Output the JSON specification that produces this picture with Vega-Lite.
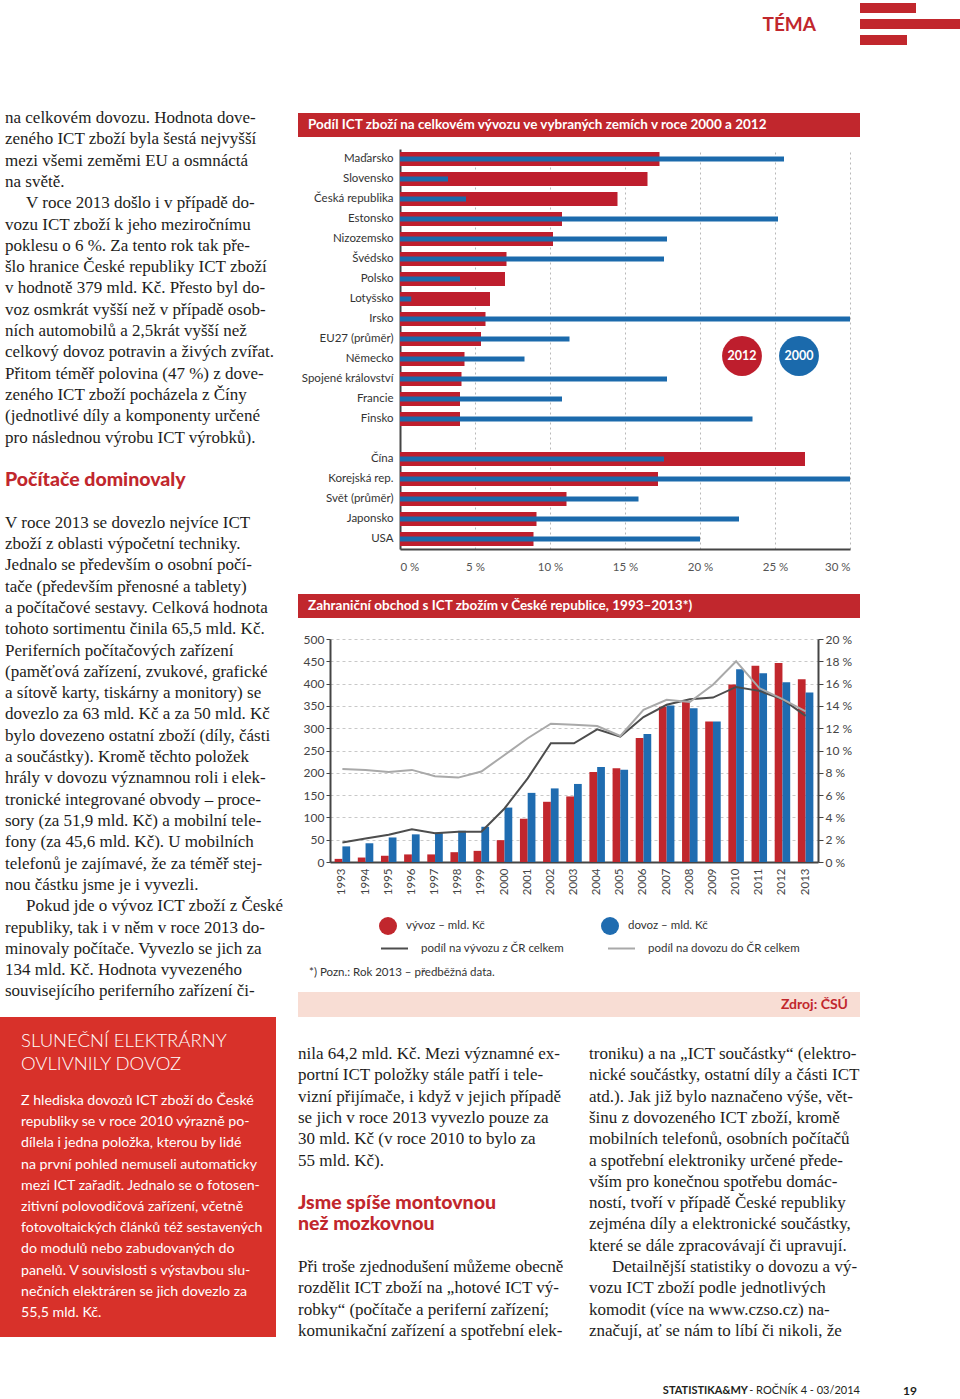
{
"$schema": "https://vega.github.io/schema/vega-lite/v6.json",
"padding": 0,
"background": "#ffffff",
"config": {"view": {"stroke": null}},
"datasets": {
"ict": [
{"country": "Maďarsko", "v2012": 17.3, "v2000": 25.6},
{"country": "Slovensko", "v2012": 16.5, "v2000": 3.2},
{"country": "Česká republika", "v2012": 14.5, "v2000": 4.4},
{"country": "Estonsko", "v2012": 10.8, "v2000": 25.2},
{"country": "Nizozemsko", "v2012": 10.2, "v2000": 17.8},
{"country": "Švédsko", "v2012": 7.1, "v2000": 17.6},
{"country": "Polsko", "v2012": 7.0, "v2000": 4.0},
{"country": "Lotyšsko", "v2012": 6.0, "v2000": 0.75},
{"country": "Irsko", "v2012": 5.7, "v2000": 30.0},
{"country": "EU27 (průměr)", "v2012": 5.4, "v2000": 11.3},
{"country": "Německo", "v2012": 4.3, "v2000": 8.3},
{"country": "Spojené království", "v2012": 4.1, "v2000": 17.8},
{"country": "Francie", "v2012": 4.0, "v2000": 10.8},
{"country": "Finsko", "v2012": 4.0, "v2000": 23.5},
{"country": "Čína", "v2012": 27.0, "v2000": 17.6},
{"country": "Korejská rep.", "v2012": 17.2, "v2000": 30.0},
{"country": "Svět (průměr)", "v2012": 11.1, "v2000": 15.9},
{"country": "Japonsko", "v2012": 9.1, "v2000": 22.6},
{"country": "USA", "v2012": 8.9, "v2000": 20.0}
],
"trade": [
{"year": "1993", "series": "vývoz – mld. Kč", "value": 7}, {"year": "1993", "series": "dovoz – mld. Kč", "value": 35},
{"year": "1994", "series": "vývoz – mld. Kč", "value": 10}, {"year": "1994", "series": "dovoz – mld. Kč", "value": 42},
{"year": "1995", "series": "vývoz – mld. Kč", "value": 14}, {"year": "1995", "series": "dovoz – mld. Kč", "value": 55},
{"year": "1996", "series": "vývoz – mld. Kč", "value": 17}, {"year": "1996", "series": "dovoz – mld. Kč", "value": 62},
{"year": "1997", "series": "vývoz – mld. Kč", "value": 17}, {"year": "1997", "series": "dovoz – mld. Kč", "value": 66},
{"year": "1998", "series": "vývoz – mld. Kč", "value": 22}, {"year": "1998", "series": "dovoz – mld. Kč", "value": 70},
{"year": "1999", "series": "vývoz – mld. Kč", "value": 25}, {"year": "1999", "series": "dovoz – mld. Kč", "value": 79},
{"year": "2000", "series": "vývoz – mld. Kč", "value": 49}, {"year": "2000", "series": "dovoz – mld. Kč", "value": 122},
{"year": "2001", "series": "vývoz – mld. Kč", "value": 97}, {"year": "2001", "series": "dovoz – mld. Kč", "value": 155},
{"year": "2002", "series": "vývoz – mld. Kč", "value": 135}, {"year": "2002", "series": "dovoz – mld. Kč", "value": 165},
{"year": "2003", "series": "vývoz – mld. Kč", "value": 147}, {"year": "2003", "series": "dovoz – mld. Kč", "value": 175},
{"year": "2004", "series": "vývoz – mld. Kč", "value": 202}, {"year": "2004", "series": "dovoz – mld. Kč", "value": 213},
{"year": "2005", "series": "vývoz – mld. Kč", "value": 210}, {"year": "2005", "series": "dovoz – mld. Kč", "value": 207},
{"year": "2006", "series": "vývoz – mld. Kč", "value": 278}, {"year": "2006", "series": "dovoz – mld. Kč", "value": 287},
{"year": "2007", "series": "vývoz – mld. Kč", "value": 348}, {"year": "2007", "series": "dovoz – mld. Kč", "value": 351},
{"year": "2008", "series": "vývoz – mld. Kč", "value": 359}, {"year": "2008", "series": "dovoz – mld. Kč", "value": 345},
{"year": "2009", "series": "vývoz – mld. Kč", "value": 315}, {"year": "2009", "series": "dovoz – mld. Kč", "value": 315},
{"year": "2010", "series": "vývoz – mld. Kč", "value": 398}, {"year": "2010", "series": "dovoz – mld. Kč", "value": 432},
{"year": "2011", "series": "vývoz – mld. Kč", "value": 440}, {"year": "2011", "series": "dovoz – mld. Kč", "value": 423},
{"year": "2012", "series": "vývoz – mld. Kč", "value": 446}, {"year": "2012", "series": "dovoz – mld. Kč", "value": 403},
{"year": "2013", "series": "vývoz – mld. Kč", "value": 410}, {"year": "2013", "series": "dovoz – mld. Kč", "value": 380}
],
"share": [
{"year": "1993", "series": "podíl na vývozu z ČR celkem", "share": 1.75}, {"year": "1993", "series": "podíl na dovozu do ČR celkem", "share": 8.35},
{"year": "1994", "series": "podíl na vývozu z ČR celkem", "share": 2.1}, {"year": "1994", "series": "podíl na dovozu do ČR celkem", "share": 8.26},
{"year": "1995", "series": "podíl na vývozu z ČR celkem", "share": 2.45}, {"year": "1995", "series": "podíl na dovozu do ČR celkem", "share": 8.08},
{"year": "1996", "series": "podíl na vývozu z ČR celkem", "share": 2.93}, {"year": "1996", "series": "podíl na dovozu do ČR celkem", "share": 8.26},
{"year": "1997", "series": "podíl na vývozu z ČR celkem", "share": 2.57}, {"year": "1997", "series": "podíl na dovozu do ČR celkem", "share": 7.7},
{"year": "1998", "series": "podíl na vývozu z ČR celkem", "share": 2.72}, {"year": "1998", "series": "podíl na dovozu do ČR celkem", "share": 7.57},
{"year": "1999", "series": "podíl na vývozu z ČR celkem", "share": 2.72}, {"year": "1999", "series": "podíl na dovozu do ČR celkem", "share": 8.12},
{"year": "2000", "series": "podíl na vývozu z ČR celkem", "share": 4.8}, {"year": "2000", "series": "podíl na dovozu do ČR celkem", "share": 9.6},
{"year": "2001", "series": "podíl na vývozu z ČR celkem", "share": 7.5}, {"year": "2001", "series": "podíl na dovozu do ČR celkem", "share": 11.1},
{"year": "2002", "series": "podíl na vývozu z ČR celkem", "share": 10.65}, {"year": "2002", "series": "podíl na dovozu do ČR celkem", "share": 12.4},
{"year": "2003", "series": "podíl na vývozu z ČR celkem", "share": 10.65}, {"year": "2003", "series": "podíl na dovozu do ČR celkem", "share": 12.3},
{"year": "2004", "series": "podíl na vývozu z ČR celkem", "share": 11.9}, {"year": "2004", "series": "podíl na dovozu do ČR celkem", "share": 12.2},
{"year": "2005", "series": "podíl na vývozu z ČR celkem", "share": 11.25}, {"year": "2005", "series": "podíl na dovozu do ČR celkem", "share": 11.3},
{"year": "2006", "series": "podíl na vývozu z ČR celkem", "share": 13.0}, {"year": "2006", "series": "podíl na dovozu do ČR celkem", "share": 13.65},
{"year": "2007", "series": "podíl na vývozu z ČR celkem", "share": 14.1}, {"year": "2007", "series": "podíl na dovozu do ČR celkem", "share": 14.55},
{"year": "2008", "series": "podíl na vývozu z ČR celkem", "share": 14.6}, {"year": "2008", "series": "podíl na dovozu do ČR celkem", "share": 14.35},
{"year": "2009", "series": "podíl na vývozu z ČR celkem", "share": 14.75}, {"year": "2009", "series": "podíl na dovozu do ČR celkem", "share": 15.9},
{"year": "2010", "series": "podíl na vývozu z ČR celkem", "share": 15.7}, {"year": "2010", "series": "podíl na dovozu do ČR celkem", "share": 18.0},
{"year": "2011", "series": "podíl na vývozu z ČR celkem", "share": 15.35}, {"year": "2011", "series": "podíl na dovozu do ČR celkem", "share": 15.6},
{"year": "2012", "series": "podíl na vývozu z ČR celkem", "share": 14.6}, {"year": "2012", "series": "podíl na dovozu do ČR celkem", "share": 14.6},
{"year": "2013", "series": "podíl na vývozu z ČR celkem", "share": 13.1}, {"year": "2013", "series": "podíl na dovozu do ČR celkem", "share": 13.5}
],
"left": [
{"line": 0, "kind": "b", "t": "na celkovém dovozu. Hodnota dove-"},
{"line": 1, "kind": "b", "t": "zeného ICT zboží byla šestá nejvyšší"},
{"line": 2, "kind": "b", "t": "mezi všemi zeměmi EU a osmnáctá"},
{"line": 3, "kind": "b", "t": "na světě."},
{"line": 4, "kind": "p", "t": "V roce 2013 došlo i v případě do-"},
{"line": 5, "kind": "b", "t": "vozu ICT zboží k jeho meziročnímu"},
{"line": 6, "kind": "b", "t": "poklesu o 6 %. Za tento rok tak pře-"},
{"line": 7, "kind": "b", "t": "šlo hranice České republiky ICT zboží"},
{"line": 8, "kind": "b", "t": "v hodnotě 379 mld. Kč. Přesto byl do-"},
{"line": 9, "kind": "b", "t": "voz osmkrát vyšší než v případě osob-"},
{"line": 10, "kind": "b", "t": "ních automobilů a 2,5krát vyšší než"},
{"line": 11, "kind": "b", "t": "celkový dovoz potravin a živých zvířat."},
{"line": 12, "kind": "b", "t": "Přitom téměř polovina (47 %) z dove-"},
{"line": 13, "kind": "b", "t": "zeného ICT zboží pocházela z Číny"},
{"line": 14, "kind": "b", "t": "(jednotlivé díly a komponenty určené"},
{"line": 15, "kind": "b", "t": "pro následnou výrobu ICT výrobků)."},
{"line": 17, "kind": "h", "t": "Počítače dominovaly"},
{"line": 19, "kind": "b", "t": "V roce 2013 se dovezlo nejvíce ICT"},
{"line": 20, "kind": "b", "t": "zboží z oblasti výpočetní techniky."},
{"line": 21, "kind": "b", "t": "Jednalo se především o osobní počí-"},
{"line": 22, "kind": "b", "t": "tače (především přenosné a tablety)"},
{"line": 23, "kind": "b", "t": "a počítačové sestavy. Celková hodnota"},
{"line": 24, "kind": "b", "t": "tohoto sortimentu činila 65,5 mld. Kč."},
{"line": 25, "kind": "b", "t": "Periferních počítačových zařízení"},
{"line": 26, "kind": "b", "t": "(paměťová zařízení, zvukové, grafické"},
{"line": 27, "kind": "b", "t": "a sítově karty, tiskárny a monitory) se"},
{"line": 28, "kind": "b", "t": "dovezlo za 63 mld. Kč a za 50 mld. Kč"},
{"line": 29, "kind": "b", "t": "bylo dovezeno ostatní zboží (díly, části"},
{"line": 30, "kind": "b", "t": "a součástky). Kromě těchto položek"},
{"line": 31, "kind": "b", "t": "hrály v dovozu významnou roli i elek-"},
{"line": 32, "kind": "b", "t": "tronické integrované obvody – proce-"},
{"line": 33, "kind": "b", "t": "sory (za 51,9 mld. Kč) a mobilní tele-"},
{"line": 34, "kind": "b", "t": "fony (za 45,6 mld. Kč). U mobilních"},
{"line": 35, "kind": "b", "t": "telefonů je zajímavé, že za téměř stej-"},
{"line": 36, "kind": "b", "t": "nou částku jsme je i vyvezli."},
{"line": 37, "kind": "p", "t": "Pokud jde o vývoz ICT zboží z České"},
{"line": 38, "kind": "b", "t": "republiky, tak i v něm v roce 2013 do-"},
{"line": 39, "kind": "b", "t": "minovaly počítače. Vyvezlo se jich za"},
{"line": 40, "kind": "b", "t": "134 mld. Kč. Hodnota vyvezeného"},
{"line": 41, "kind": "b", "t": "souvisejícího periferního zařízení či-"}
],
"box": [
{"line": 0, "kind": "h", "t": "SLUNEČNÍ ELEKTRÁRNY"},
{"line": 1, "kind": "h", "t": "OVLIVNILY DOVOZ"},
{"line": 0, "kind": "b", "t": "Z hlediska dovozů ICT zboží do České"},
{"line": 1, "kind": "b", "t": "republiky se v roce 2010 výrazně po-"},
{"line": 2, "kind": "b", "t": "dílela i jedna položka, kterou by lidé"},
{"line": 3, "kind": "b", "t": "na první pohled nemuseli automaticky"},
{"line": 4, "kind": "b", "t": "mezi ICT zařadit. Jednalo se o fotosen-"},
{"line": 5, "kind": "b", "t": "zitivní polovodičová zařízení, včetně"},
{"line": 6, "kind": "b", "t": "fotovoltaických článků též sestavených"},
{"line": 7, "kind": "b", "t": "do modulů nebo zabudovaných do"},
{"line": 8, "kind": "b", "t": "panelů. V souvislosti s výstavbou slu-"},
{"line": 9, "kind": "b", "t": "nečních elektráren se jich dovezlo za"},
{"line": 10, "kind": "b", "t": "55,5 mld. Kč."}
],
"col2": [
{"line": 0, "kind": "b", "t": "nila 64,2 mld. Kč. Mezi významné ex-"},
{"line": 1, "kind": "b", "t": "portní ICT položky stále patří i tele-"},
{"line": 2, "kind": "b", "t": "vizní přijímače, i když v jejich případě"},
{"line": 3, "kind": "b", "t": "se jich v roce 2013 vyvezlo pouze za"},
{"line": 4, "kind": "b", "t": "30 mld. Kč (v roce 2010 to bylo za"},
{"line": 5, "kind": "b", "t": "55 mld. Kč)."},
{"line": 7, "kind": "h", "t": "Jsme spíše montovnou"},
{"line": 8, "kind": "h", "t": "než mozkovnou"},
{"line": 10, "kind": "b", "t": "Při troše zjednodušení můžeme obecně"},
{"line": 11, "kind": "b", "t": "rozdělit ICT zboží na „hotové ICT vý-"},
{"line": 12, "kind": "b", "t": "robky“ (počítače a periferní zařízení;"},
{"line": 13, "kind": "b", "t": "komunikační zařízení a spotřební elek-"}
],
"col3": [
{"line": 0, "kind": "b", "t": "troniku) a na „ICT součástky“ (elektro-"},
{"line": 1, "kind": "b", "t": "nické součástky, ostatní díly a části ICT"},
{"line": 2, "kind": "b", "t": "atd.). Jak již bylo naznačeno výše, vět-"},
{"line": 3, "kind": "b", "t": "šinu z dovozeného ICT zboží, kromě"},
{"line": 4, "kind": "b", "t": "mobilních telefonů, osobních počítačů"},
{"line": 5, "kind": "b", "t": "a spotřební elektroniky určené přede-"},
{"line": 6, "kind": "b", "t": "vším pro konečnou spotřebu domác-"},
{"line": 7, "kind": "b", "t": "ností, tvoří v případě České republiky"},
{"line": 8, "kind": "b", "t": "zejména díly a elektronické součástky,"},
{"line": 9, "kind": "b", "t": "které se dále zpracovávají či upravují."},
{"line": 10, "kind": "p", "t": "Detailnější statistiky o dovozu a vý-"},
{"line": 11, "kind": "b", "t": "vozu ICT zboží podle jednotlivých"},
{"line": 12, "kind": "b", "t": "komodit (více na www.czso.cz) na-"},
{"line": 13, "kind": "b", "t": "značují, ať se nám to líbí či nikoli, že"}
]
},
"spacing": 52,
"vconcat": [
{
"hconcat": [
{"width": 860, "height": 48, "data": {"values": [{"t": "TÉMA"}]},
 "mark": {"type": "text", "align": "right", "baseline": "middle", "font": "Lato", "fontWeight": "bold", "fontSize": 19, "color": "#c1272d"},
 "encoding": {"text": {"field": "t"}, "x": {"value": 816}, "y": {"value": 25}}},
{"width": 100, "height": 48, "data": {"values": [{"k": "a", "len": 56}, {"k": "b", "len": 100}, {"k": "c", "len": 47}]},
 "mark": {"type": "bar", "color": "#c1272d", "size": 10},
 "encoding": {"y": {"field": "k", "type": "nominal", "axis": null, "scale": {"paddingInner": 0, "paddingOuter": 0}},
  "x": {"field": "len", "type": "quantitative", "axis": null, "scale": {"domain": [0, 100]}}}}
],
"spacing": 0, "bounds": "flush"
},
{
"vconcat": [
{
"hconcat": [
{"width": 286, "height": 917, "data": {"name": "left"},
 "encoding": {"y": {"field": "line", "type": "quantitative", "scale": {"domain": [-0.845, 42.2], "reverse": true, "nice": false, "zero": false}, "axis": null},
  "x": {"value": 5}, "text": {"field": "t"}},
 "layer": [
  {"transform": [{"filter": "datum.kind === 'b'"}], "mark": {"type": "text", "align": "left", "baseline": "middle", "font": "Liberation Serif", "fontSize": 17, "color": "#1d1d1b"}},
  {"transform": [{"filter": "datum.kind === 'p'"}], "mark": {"type": "text", "align": "left", "baseline": "middle", "font": "Liberation Serif", "fontSize": 17, "color": "#1d1d1b", "dx": 21}},
  {"transform": [{"filter": "datum.kind === 'h'"}], "mark": {"type": "text", "align": "left", "baseline": "middle", "font": "Lato", "fontWeight": 900, "fontSize": 19.5, "color": "#c1272d"}}
 ]},
{
"vconcat": [
{"width": 562, "height": 13, "data": {"values": []}, "mark": "point"},
{"width": 562, "height": 24, "view": {"fill": "#c1272d", "stroke": null}, "data": {"values": [{"t": "Podíl ICT zboží na celkovém vývozu ve vybraných zemích v roce 2000 a 2012"}]},
 "mark": {"type": "text", "align": "left", "baseline": "middle", "font": "Lato", "fontWeight": "bold", "fontSize": 13.5, "color": "#ffffff"},
 "encoding": {"text": {"field": "t"}, "x": {"value": 10}}},
{"width": 562, "height": 12, "data": {"values": []}, "mark": "point"},
{
"hconcat": [
{"width": 102, "height": 400, "data": {"values": []}, "mark": "point"},
{"width": 450, "height": 400, "data": {"name": "ict"},
 "encoding": {"y": {"field": "country", "type": "nominal",
   "scale": {"domain": ["Maďarsko", "Slovensko", "Česká republika", "Estonsko", "Nizozemsko", "Švédsko", "Polsko", "Lotyšsko", "Irsko", "EU27 (průměr)", "Německo", "Spojené království", "Francie", "Finsko", " ", "Čína", "Korejská rep.", "Svět (průměr)", "Japonsko", "USA"], "paddingInner": 0, "paddingOuter": 0},
   "axis": {"title": null, "ticks": false, "domainColor": "#444444", "domainWidth": 2, "labelFont": "Lato", "labelFontSize": 11.5, "labelColor": "#333333", "labelPadding": 7}}},
 "layer": [
  {"mark": {"type": "bar", "color": "#be1e2d", "size": 14},
   "encoding": {"x": {"field": "v2012", "type": "quantitative", "scale": {"domain": [0, 30], "nice": false},
     "axis": {"values": [0, 5, 10, 15, 20, 25, 30], "labelExpr": "datum.value + ' %'", "grid": true, "gridDash": [2, 3], "gridColor": "#b8b8b8", "ticks": false, "domainColor": "#444444", "domainWidth": 2, "labelFont": "Lato", "labelFontSize": 11.5, "labelColor": "#555555", "labelPadding": 12, "title": null}}}},
  {"mark": {"type": "bar", "color": "#1b6aac", "size": 5},
   "encoding": {"x": {"field": "v2000", "type": "quantitative"}}},
  {"data": {"values": [{"t": "2012"}]}, "mark": {"type": "circle", "size": 1590, "color": "#be1e2d", "opacity": 1, "yOffset": -3},
   "encoding": {"x": {"datum": 22.8}, "y": {"datum": "Německo"}}},
  {"data": {"values": [{"t": "2012"}]}, "mark": {"type": "text", "font": "Lato", "fontWeight": "bold", "fontSize": 12.5, "color": "#ffffff", "align": "center", "baseline": "middle", "yOffset": -3},
   "encoding": {"x": {"datum": 22.8}, "y": {"datum": "Německo"}, "text": {"field": "t"}}},
  {"data": {"values": [{"t": "2000"}]}, "mark": {"type": "circle", "size": 1590, "color": "#1b6aac", "opacity": 1, "yOffset": -3},
   "encoding": {"x": {"datum": 26.6}, "y": {"datum": "Německo"}}},
  {"data": {"values": [{"t": "2000"}]}, "mark": {"type": "text", "font": "Lato", "fontWeight": "bold", "fontSize": 12.5, "color": "#ffffff", "align": "center", "baseline": "middle", "yOffset": -3},
   "encoding": {"x": {"datum": 26.6}, "y": {"datum": "Německo"}, "text": {"field": "t"}}}
 ]}
],
"spacing": 0, "bounds": "flush"
},
{"width": 562, "height": 21, "data": {"values": []}, "mark": "point"},
{"width": 562, "height": 24, "view": {"fill": "#c1272d", "stroke": null}, "data": {"values": [{"t": "Zahraniční obchod s ICT zbožím v České republice, 1993–2013*)"}]},
 "mark": {"type": "text", "align": "left", "baseline": "middle", "font": "Lato", "fontWeight": "bold", "fontSize": 13.5, "color": "#ffffff"},
 "encoding": {"text": {"field": "t"}, "x": {"value": 10}}},
{"width": 562, "height": 15, "data": {"values": []}, "mark": "point"},
{
"hconcat": [
{"width": 32, "height": 223, "data": {"values": []}, "mark": "point"},
{"width": 488, "height": 223,
 "layer": [
  {"data": {"name": "trade"}, "mark": {"type": "bar"},
   "encoding": {
    "x": {"field": "year", "type": "nominal", "scale": {"paddingInner": 0.33, "paddingOuter": 0.2},
      "axis": {"labelAngle": -90, "ticks": false, "domainColor": "#444444", "domainWidth": 2, "labelFont": "Lato", "labelFontSize": 11.5, "labelColor": "#444444", "labelPadding": 6, "title": null}},
    "xOffset": {"field": "series", "type": "nominal", "sort": ["vývoz – mld. Kč", "dovoz – mld. Kč"]},
    "y": {"field": "value", "type": "quantitative", "scale": {"domain": [0, 500], "nice": false},
      "axis": {"values": [0, 50, 100, 150, 200, 250, 300, 350, 400, 450, 500], "grid": true, "gridDash": [3, 3], "gridColor": "#c8c8c8", "domainColor": "#444444", "domainWidth": 2, "tickSize": 4, "tickColor": "#444444", "labelFont": "Lato", "labelFontSize": 12, "labelColor": "#444444", "labelPadding": 2, "title": null}},
    "color": {"field": "series", "type": "nominal", "scale": {"domain": ["vývoz – mld. Kč", "dovoz – mld. Kč"], "range": ["#c1272d", "#1f6cb0"]},
      "legend": {"orient": "none", "legendX": 49, "legendY": 278, "direction": "horizontal", "columns": 2, "columnPadding": 116, "symbolType": "circle", "symbolSize": 324, "symbolStrokeWidth": 0, "labelOffset": 9, "labelFont": "Lato", "labelFontSize": 11.5, "labelColor": "#333333", "title": null}}
   }},
  {"data": {"name": "share"}, "mark": {"type": "line", "strokeWidth": 2},
   "encoding": {
    "x": {"field": "year", "type": "nominal"},
    "y": {"field": "share", "type": "quantitative", "scale": {"domain": [0, 20], "nice": false},
      "axis": {"orient": "right", "values": [0, 2, 4, 6, 8, 10, 12, 14, 16, 18, 20], "labelExpr": "datum.value + ' %'", "grid": false, "domainColor": "#444444", "domainWidth": 2, "tickSize": 5, "tickColor": "#444444", "labelFont": "Lato", "labelFontSize": 12, "labelColor": "#444444", "labelPadding": 2, "title": null}},
    "stroke": {"field": "series", "type": "nominal", "scale": {"domain": ["podíl na vývozu z ČR celkem", "podíl na dovozu do ČR celkem"], "range": ["#4d4d4d", "#a9a9a9"]},
      "legend": {"orient": "none", "legendX": 50, "legendY": 295, "direction": "horizontal", "columns": 2, "columnPadding": 40, "symbolType": "stroke", "symbolSize": 729, "symbolStrokeWidth": 2, "labelOffset": 12, "labelFont": "Lato", "labelFontSize": 11.5, "labelColor": "#333333", "title": null}}
   }}
 ],
 "resolve": {"scale": {"y": "independent"}}}
],
"spacing": 0, "bounds": "flush",
"resolve": {"scale": {"color": "independent", "stroke": "independent", "xOffset": "independent"}}
},
{"width": 562, "height": 9, "data": {"values": []}, "mark": "point"},
{"width": 562, "height": 20, "data": {"values": [{"t": "*) Pozn.: Rok 2013 – předběžná data."}]},
 "mark": {"type": "text", "align": "left", "baseline": "middle", "font": "Lato", "fontSize": 11.5, "color": "#333333"},
 "encoding": {"text": {"field": "t"}, "x": {"value": 11}}},
{"width": 562, "height": 9, "data": {"values": []}, "mark": "point"},
{"width": 562, "height": 25, "view": {"fill": "#f8ddd4", "stroke": null}, "data": {"values": [{"t": "Zdroj: ČSÚ"}]},
 "mark": {"type": "text", "align": "right", "baseline": "middle", "font": "Lato", "fontWeight": "bold", "fontSize": 14, "color": "#c1272d"},
 "encoding": {"text": {"field": "t"}, "x": {"value": 550}}}
],
"spacing": 0
}
],
"spacing": 12
},
{
"hconcat": [
{"width": 276, "height": 320, "view": {"fill": "#d8312a", "stroke": null}, "data": {"name": "box"},
 "layer": [
  {"transform": [{"filter": "datum.kind === 'h'"}], "mark": {"type": "text", "align": "left", "baseline": "middle", "font": "Lato", "fontWeight": 300, "fontSize": 18.5, "color": "#ffffff"},
   "encoding": {"y": {"field": "line", "type": "quantitative", "scale": {"domain": [-1.0435, 12.87], "reverse": true, "nice": false, "zero": false}, "axis": null}, "x": {"value": 21}, "text": {"field": "t"}}},
  {"transform": [{"filter": "datum.kind === 'b'"}], "mark": {"type": "text", "align": "left", "baseline": "middle", "font": "Lato", "fontSize": 14.2, "color": "#ffffff"},
   "encoding": {"y": {"field": "line", "type": "quantitative", "scale": {"domain": [-3.962, 11.132], "reverse": true, "nice": false, "zero": false}, "axis": null}, "x": {"value": 21}, "text": {"field": "t"}}}
 ],
 "resolve": {"scale": {"y": "independent"}}},
{"width": 269, "height": 362, "data": {"name": "col2"},
 "encoding": {"y": {"field": "line", "type": "quantitative", "scale": {"domain": [-1.737, 15.258], "reverse": true, "nice": false, "zero": false}, "axis": null}, "x": {"value": 0}, "text": {"field": "t"}},
 "layer": [
  {"transform": [{"filter": "datum.kind === 'b'"}], "mark": {"type": "text", "align": "left", "baseline": "middle", "font": "Liberation Serif", "fontSize": 17, "color": "#1d1d1b"}},
  {"transform": [{"filter": "datum.kind === 'h'"}], "mark": {"type": "text", "align": "left", "baseline": "middle", "font": "Lato", "fontWeight": 900, "fontSize": 19.5, "color": "#c1272d"}}
 ]},
{"width": 271, "height": 362, "data": {"name": "col3"},
 "encoding": {"y": {"field": "line", "type": "quantitative", "scale": {"domain": [-1.737, 15.258], "reverse": true, "nice": false, "zero": false}, "axis": null}, "x": {"value": 0}, "text": {"field": "t"}},
 "layer": [
  {"transform": [{"filter": "datum.kind === 'b'"}], "mark": {"type": "text", "align": "left", "baseline": "middle", "font": "Liberation Serif", "fontSize": 17, "color": "#1d1d1b"}},
  {"transform": [{"filter": "datum.kind === 'p'"}], "mark": {"type": "text", "align": "left", "baseline": "middle", "font": "Liberation Serif", "fontSize": 17, "color": "#1d1d1b", "dx": 23}}
 ]}
],
"spacing": 22, "bounds": "flush"
},
{
"hconcat": [
{"width": 589, "height": 20, "data": {"values": []}, "mark": "point"},
{"width": 271, "height": 20,
 "layer": [
  {"data": {"values": [{"t": "- ROČNÍK 4 - 03/2014"}]}, "mark": {"type": "text", "align": "right", "baseline": "middle", "font": "Lato", "fontSize": 11, "color": "#231f20", "dy": 2},
   "encoding": {"text": {"field": "t"}, "x": {"value": "width"}}},
  {"data": {"values": [{"t": "STATISTIKA&MY"}]}, "mark": {"type": "text", "align": "right", "baseline": "middle", "font": "Lato", "fontWeight": "bold", "fontSize": 11, "color": "#231f20", "dy": 2, "dx": -112},
   "encoding": {"text": {"field": "t"}, "x": {"value": "width"}}}
 ]},
{"width": 60, "height": 20, "data": {"values": [{"t": "19"}]},
 "mark": {"type": "text", "align": "right", "baseline": "middle", "font": "Lato", "fontWeight": "bold", "fontSize": 12, "color": "#231f20", "dy": 2},
 "encoding": {"text": {"field": "t"}, "x": {"value": 57}}}
],
"spacing": 0, "bounds": "flush"
}
],
"spacing": 0
}
]
}
